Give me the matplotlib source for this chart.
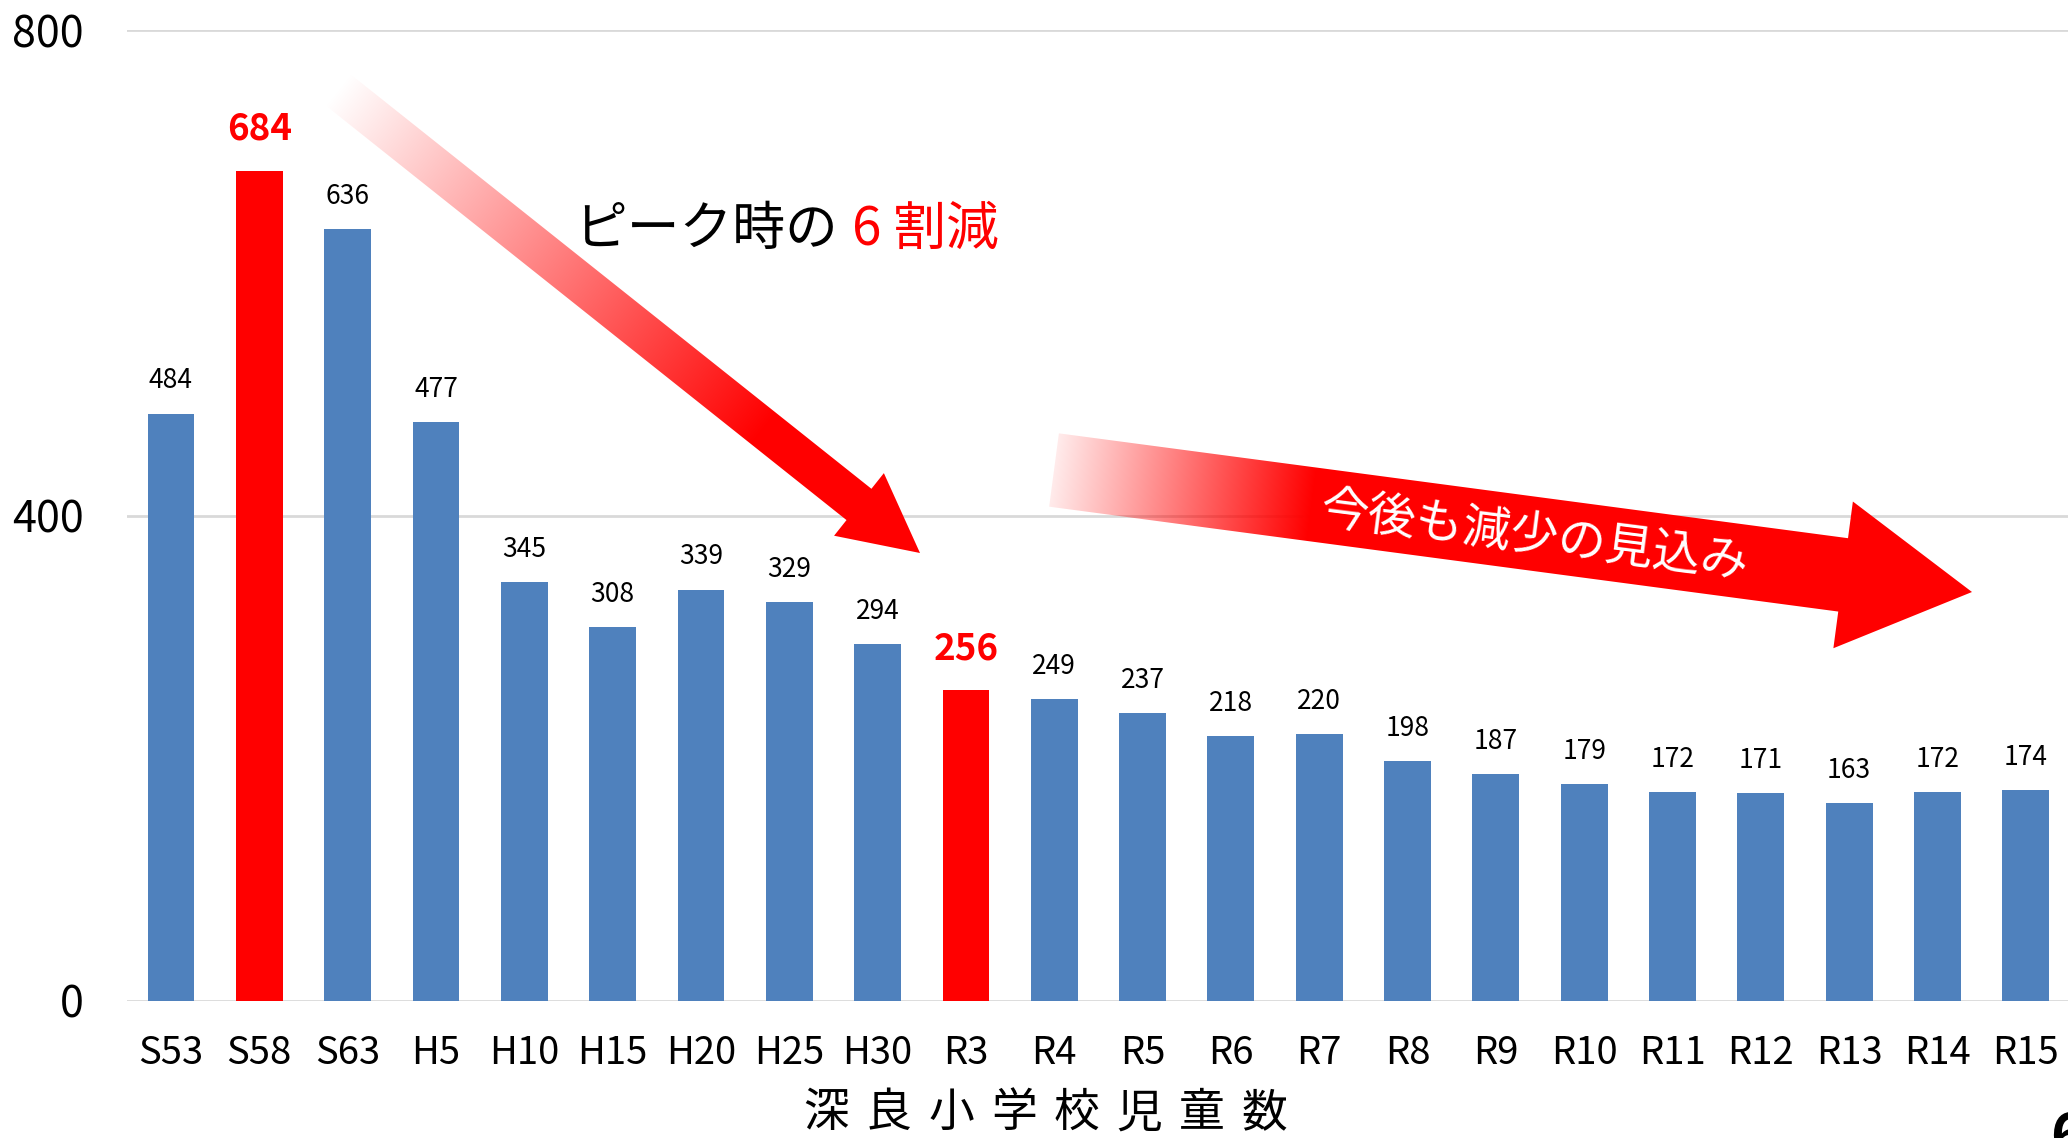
import matplotlib
matplotlib.use('Agg')
import matplotlib.pyplot as plt
import numpy as np
from matplotlib.patches import Polygon

plt.rcParams['font.family'] = ['Noto Sans CJK JP', 'DejaVu Sans']

categories = ['S53', 'S58', 'S63', 'H5', 'H10', 'H15', 'H20', 'H25', 'H30', 'R3',
              'R4', 'R5', 'R6', 'R7', 'R8', 'R9', 'R10', 'R11', 'R12', 'R13', 'R14', 'R15']
values = [484, 684, 636, 477, 345, 308, 339, 329, 294, 256,
          249, 237, 218, 220, 198, 187, 179, 172, 171, 163, 172, 174]
highlight = ['S58', 'R3']
yticks = [0, 400, 800]
xlabel_text = '深良小学校児童数'
note1_black = 'ピーク時の'
note1_red = '6 割減'
note2 = '今後も減少の見込み'

W, H = 2068, 1138
fig = plt.figure(figsize=(W / 100, H / 100), dpi=100)
ax = fig.add_axes([126.8 / W, 1 - 1001 / H, (2070 - 126.8) / W, (1001 - 30) / H])

x = np.arange(len(categories))
colors = ['#FF0000' if c in highlight else '#4F81BD' for c in categories]
ax.bar(x, values, width=0.53, color=colors, zorder=3)
ax.set_xlim(-0.5, len(categories) - 0.5)
ax.set_ylim(0, 800)
ax.set_yticks(yticks)
ax.set_yticklabels([str(t) for t in yticks], fontsize=31)
ax.yaxis.grid(True, color='#D9D9D9', linewidth=2)
ax.set_axisbelow(True)
for s in ax.spines.values():
    s.set_visible(False)
ax.set_xticks(x)
ax.set_xticklabels(categories, fontsize=27.5)
ax.tick_params(axis='x', length=0, pad=24)
ax.tick_params(axis='y', length=0, pad=31)

for i, (c, v) in enumerate(zip(categories, values)):
    if c in highlight:
        ax.annotate(str(v), (i, v), xytext=(0, 30), textcoords='offset points',
                    ha='center', va='center', fontsize=26.5, fontweight='bold', color='#FF0000')
    else:
        ax.annotate(str(v), (i, v), xytext=(0, 23.5), textcoords='offset points',
                    ha='center', va='center', fontsize=19, color='black')

# overlay in pixel coordinates
ov = fig.add_axes([0, 0, 1, 1], zorder=5)
ov.set_xlim(0, W)
ov.set_ylim(H, 0)
ov.axis('off')
ov.patch.set_alpha(0)


def gradient_arrow(axo, tail, tip, sw, hw, hl, a0, tfull):
    tail = np.array(tail, float)
    tip = np.array(tip, float)
    d = tip - tail
    L = np.hypot(*d)
    u = d / L
    n = np.array([-u[1], u[0]])
    base = tip - u * hl
    pts = [tail + n * sw / 2, base + n * sw / 2, base + n * hw / 2, tip,
           base - n * hw / 2, base - n * sw / 2, tail - n * sw / 2]
    pts = np.array(pts)
    poly = Polygon(pts, closed=True, facecolor='none', edgecolor='none')
    axo.add_patch(poly)
    xmin, ymin = np.floor(pts.min(axis=0)) - 2
    xmax, ymax = np.ceil(pts.max(axis=0)) + 2
    xs = np.arange(xmin, xmax) + 0.5
    ys = np.arange(ymin, ymax) + 0.5
    X, Y = np.meshgrid(xs, ys)
    t = ((X - tail[0]) * u[0] + (Y - tail[1]) * u[1]) / L
    alpha = np.clip(a0 + (1 - a0) * t / tfull, 0, 1)
    img = np.zeros(X.shape + (4,))
    img[..., 0] = 1.0
    img[..., 3] = alpha
    im = axo.imshow(img, extent=(xmin, xmax, ymax, ymin), origin='upper',
                    interpolation='bilinear', aspect='auto')
    im.set_clip_path(poly)


gradient_arrow(ov, (337, 89), (920, 553), 40, 80, 78, 0.0, 0.73)
gradient_arrow(ov, (1054, 470), (1972, 592), 74, 148, 130, 0.08, 0.28)
ov.set_xlim(0, W)
ov.set_ylim(H, 0)

ov.text(574, 229, note1_black, fontsize=38, ha='left', va='center', color='black')
ov.text(852, 229, note1_red, fontsize=38, ha='left', va='center', color='#FF0000')
ov.text(1534, 536, note2, fontsize=34.5, ha='center', va='center', color='white',
        rotation=-7.3, rotation_mode='anchor')

for k, ch in enumerate(xlabel_text):
    ov.text(826 + k * 62.7, 1113, ch, fontsize=33, ha='center', va='center', color='black')

ov.text(2050, 1156, '6', fontsize=42, fontweight='bold', ha='left', va='baseline', color='black')

fig.savefig('out.png', dpi=100)
